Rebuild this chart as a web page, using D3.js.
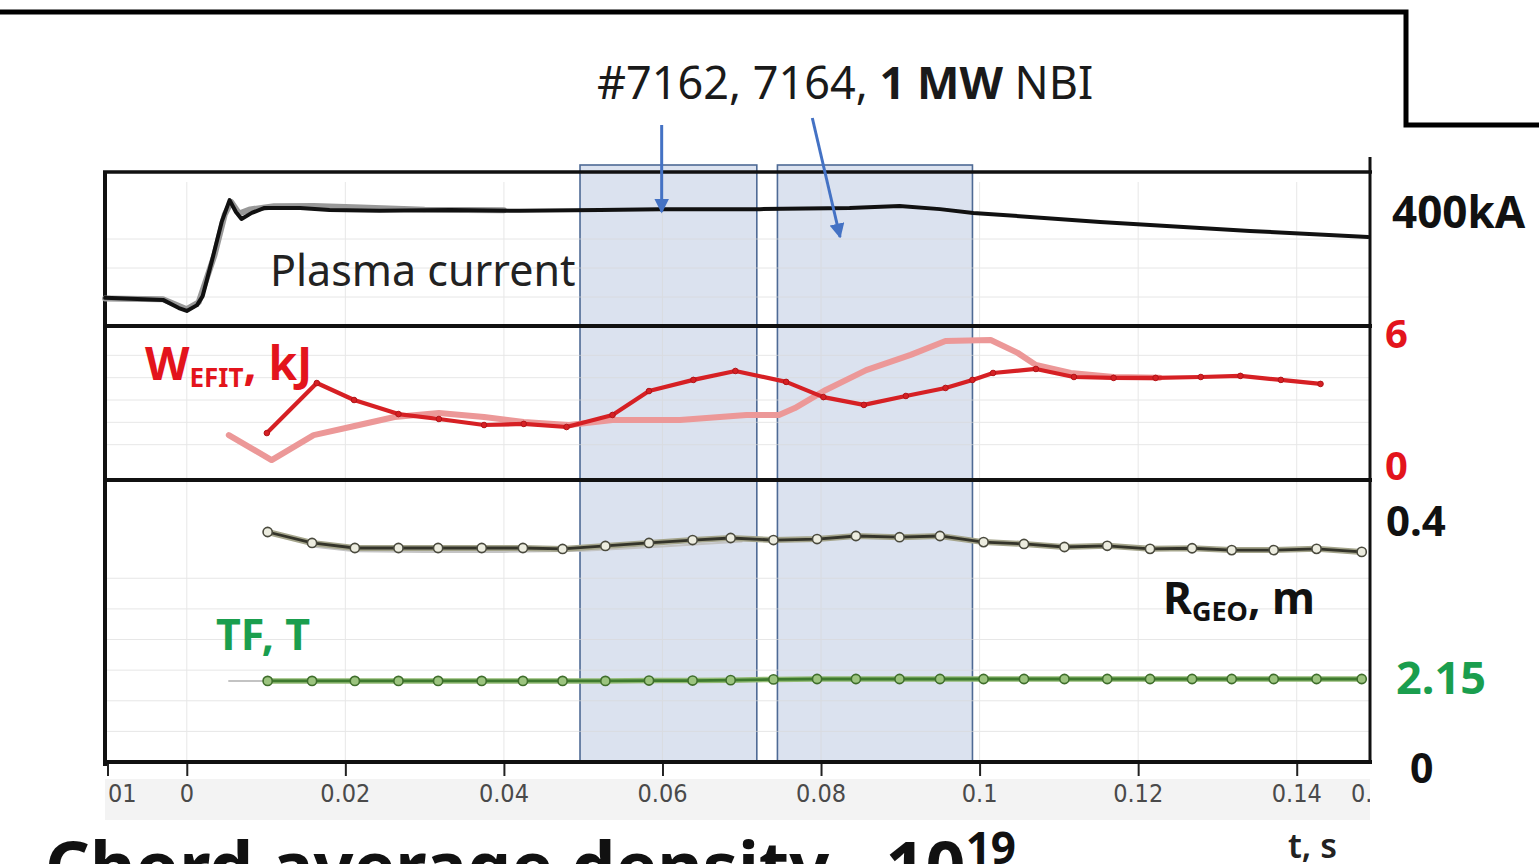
<!DOCTYPE html>
<html>
<head>
<meta charset="utf-8">
<script src="https://cdn.jsdelivr.net/npm/d3@7"></script>
<style>
body { margin: 0; background: #fff; }
svg { display: block; }
text { font-family: "Noto Sans", sans-serif; }
</style>
</head>
<body>
<svg id="chart" width="1539" height="864"></svg>
<script>
// time axis
var tickVals = [-0.01, 0, 0.02, 0.04, 0.06, 0.08, 0.1, 0.12, 0.14, 0.15];
var tickLabels = ['-0.01', '0', '0.02', '0.04', '0.06', '0.08', '0.1', '0.12', '0.14', '0.15'];

// NBI windows, s
var nbiStart = [0.0496, 0.0745];
var nbiEnd = [0.0719, 0.0991];

// plasma current, kA
var ipT = [-0.0103, -0.003, -0.001, 0, 0.0013, 0.002, 0.0032, 0.0044, 0.0054, 0.0062, 0.0069, 0.0082, 0.0098,
	0.0143, 0.018, 0.0243, 0.0332, 0.042, 0.0521, 0.0597, 0.0723, 0.0836, 0.0899, 0.095, 0.0992, 0.1152, 0.1341, 0.149];
var ipV = [97, 90, 62, 52, 72, 103, 228, 359, 434, 393, 369, 390, 407,
	407, 400, 397, 400, 397, 400, 403, 403, 407, 414, 403, 390, 359, 328, 307];
var ipGreyT = [-0.0103, -0.003, 0, 0.0015, 0.0035, 0.0048, 0.0056, 0.0066, 0.008, 0.011, 0.016, 0.022, 0.03, 0.04];
var ipGreyV = [95, 92, 58, 82, 245, 385, 428, 388, 402, 413, 414, 409, 401, 399];

// stored energy EFIT, kJ
var wT = [0.0101, 0.0164, 0.0211, 0.0267, 0.0318, 0.0375, 0.0425, 0.0479, 0.0537, 0.0583, 0.0639, 0.0692, 0.0756,
	0.0803, 0.0854, 0.0907, 0.0957, 0.0991, 0.1017, 0.1071, 0.1119, 0.1169, 0.1222, 0.1279, 0.1329, 0.138, 0.143];
var wV = [1.52, 3.76, 3.0, 2.37, 2.15, 1.88, 1.93, 1.79, 2.33, 3.4, 3.9, 4.3, 3.81,
	3.13, 2.78, 3.18, 3.54, 3.9, 4.21, 4.39, 4.03, 3.99, 3.99, 4.03, 4.08, 3.9, 3.72];
var wPrevT = [0.0053, 0.0107, 0.016, 0.0206, 0.0262, 0.0318, 0.0375, 0.0425, 0.0482, 0.0537, 0.0622, 0.0706,
	0.0747, 0.0767, 0.0806, 0.0857, 0.0913, 0.0957, 0.1014, 0.1048, 0.1071, 0.1115, 0.1169, 0.1227];
var wPrevV = [1.43, 0.31, 1.43, 1.79, 2.24, 2.42, 2.24, 2.02, 1.88, 2.1, 2.1, 2.33,
	2.33, 2.64, 3.45, 4.34, 5.02, 5.64, 5.69, 5.11, 4.57, 4.21, 4.03, 4.0];

// R_GEO, m and TF, T (same EFIT time slices)
var efitT = [0.0102, 0.0158, 0.0212, 0.0267, 0.0317, 0.0372, 0.0424, 0.0474, 0.0528, 0.0583, 0.0638, 0.0686, 0.074,
	0.0795, 0.0844, 0.0899, 0.095, 0.1005, 0.1056, 0.1107, 0.1161, 0.1215, 0.1268, 0.1318, 0.1371, 0.1425, 0.1482];
var rgeoV = [0.3755, 0.3576, 0.3494, 0.3494, 0.3494, 0.3494, 0.3494, 0.3478, 0.3527, 0.3576, 0.3624, 0.3657, 0.3624,
	0.364, 0.369, 0.367, 0.369, 0.359, 0.356, 0.351, 0.353, 0.348, 0.349, 0.346, 0.346, 0.348, 0.343];
var rgeoGreyT = [0.0158, 0.0212, 0.03, 0.04, 0.05, 0.06, 0.07];
var rgeoGreyV = [0.352, 0.344, 0.343, 0.343, 0.345, 0.352, 0.36];
var tfV = [2.1, 2.1, 2.1, 2.1, 2.1, 2.1, 2.1, 2.1, 2.1, 2.11, 2.11, 2.12, 2.14,
	2.15, 2.15, 2.15, 2.15, 2.15, 2.15, 2.15, 2.15, 2.15, 2.15, 2.15, 2.15, 2.15, 2.15];
var tfGreyT = [0.0053, 0.0102];
var tfGreyV = [2.1, 2.1];

var svg = d3.select('#chart');

var F = {left: 105, right: 1370, top: 172, mid1: 326, mid2: 480, bottom: 762};

var x = d3.scaleLinear().domain([-0.01, 0.15]).range([107.5, 1376]);
var yIp = d3.scaleLinear().domain([0, 400]).range([326, 210]);
var yW = d3.scaleLinear().domain([0, 6]).range([467, 333]);
var yR = d3.scaleLinear().domain([0, 0.4]).range([762, 517]);
var yTF = d3.scaleLinear().domain([0, 2.15]).range([762, 679]);

svg.append('rect').attr('width', 1539).attr('height', 864).attr('fill', '#fff');

// slide border
svg.append('path').attr('d', 'M0,12H1406V125H1539')
	.attr('fill', 'none').attr('stroke', '#000').attr('stroke-width', 5);

// NBI shading
svg.selectAll('rect.nbi').data(d3.zip(nbiStart, nbiEnd)).enter().append('rect')
	.attr('class', 'nbi')
	.attr('x', function (d) {return x(d[0]);})
	.attr('width', function (d) {return x(d[1]) - x(d[0]);})
	.attr('y', 165).attr('height', F.bottom - 165)
	.attr('fill', '#dbe2ef').attr('stroke', '#4e6a95').attr('stroke-width', 1.6);

// faint grid
var grid = svg.append('g').attr('stroke', '#d8d8d8').attr('stroke-width', 1).attr('opacity', 0.6);
tickVals.slice(1, 9).forEach(function (t) {
	grid.append('line').attr('x1', x(t)).attr('x2', x(t)).attr('y1', F.top + 10).attr('y2', F.bottom);
});
function hgrid(scale, vals) {
	vals.forEach(function (v) {
		grid.append('line').attr('x1', F.left).attr('x2', F.right).attr('y1', scale(v)).attr('y2', scale(v));
	});
}
hgrid(yIp, [100, 200, 300]);
hgrid(yW, [1, 2, 3, 4, 5]);
hgrid(yR, [0.05, 0.1, 0.15, 0.2, 0.25, 0.3]);

// label band under the axis
svg.append('rect').attr('x', F.left).attr('y', 779).attr('width', F.right - F.left).attr('height', 41)
	.attr('fill', '#f3f3f3');

// x axis: tick marks from d3, labels moved to a clipped group
var xAxis = d3.axisBottom(x).tickValues(tickVals).tickSize(14).tickPadding(9)
	.tickFormat(function (d, i) {return tickLabels[i];});
var ax = svg.append('g').attr('transform', 'translate(0,' + F.bottom + ')').call(xAxis);
ax.select('.domain').remove();
ax.selectAll('line').attr('stroke', '#222').attr('stroke-width', 2);
ax.selectAll('.tick').filter(function (d) {return d > 0.145;}).select('line').remove();

svg.append('clipPath').attr('id', 'axclip').append('rect')
	.attr('x', 109).attr('y', 740).attr('width', F.right - 109).attr('height', 80);
var axText = svg.append('g').attr('clip-path', 'url(#axclip)');
ax.selectAll('.tick').each(function (d) {
	var txt = d3.select(this).select('text');
	axText.append('text')
		.attr('x', x(d)).attr('y', F.bottom + 14 + 8).attr('dy', '0.71em')
		.attr('text-anchor', 'middle').attr('font-size', 25).attr('fill', '#4a4a4a')
		.style('font-family', '"Liberation Sans Narrow", "DejaVu Sans Condensed", sans-serif')
		.text(txt.text());
	txt.remove();
});

// frame
var frame = svg.append('g').attr('stroke', '#111').attr('fill', 'none');
frame.append('line').attr('x1', F.left - 2).attr('x2', F.right + 2).attr('y1', F.top).attr('y2', F.top).attr('stroke-width', 3.5);
frame.append('line').attr('x1', F.left - 2).attr('x2', F.right + 2).attr('y1', F.mid1).attr('y2', F.mid1).attr('stroke-width', 4);
frame.append('line').attr('x1', F.left - 2).attr('x2', F.right + 2).attr('y1', F.mid2).attr('y2', F.mid2).attr('stroke-width', 4);
frame.append('line').attr('x1', F.left - 2).attr('x2', F.right + 2).attr('y1', F.bottom).attr('y2', F.bottom).attr('stroke-width', 4);
frame.append('line').attr('x1', F.left).attr('x2', F.left).attr('y1', F.top - 1).attr('y2', F.bottom + 4).attr('stroke-width', 4);
frame.append('line').attr('x1', F.right).attr('x2', F.right).attr('y1', 157).attr('y2', F.bottom + 2).attr('stroke-width', 3);

function drawLine(ts, vs, yScale, stroke, width) {
	var line = d3.line().x(function (d) {return x(d[0]);}).y(function (d) {return yScale(d[1]);});
	return svg.append('path').datum(d3.zip(ts, vs)).attr('d', line)
		.attr('fill', 'none').attr('stroke', stroke).attr('stroke-width', width)
		.attr('stroke-linejoin', 'round').attr('stroke-linecap', 'round');
}
function drawDots(ts, vs, yScale, r, fill, stroke, sw) {
	svg.append('g').selectAll('circle').data(d3.zip(ts, vs)).enter().append('circle')
		.attr('cx', function (d) {return x(d[0]);})
		.attr('cy', function (d) {return yScale(d[1]);})
		.attr('r', r).attr('fill', fill).attr('stroke', stroke).attr('stroke-width', sw);
}

// plasma current
drawLine(ipGreyT, ipGreyV, yIp, '#999', 6);
drawLine(ipT, ipV, yIp, '#111', 4);

// W_EFIT
drawLine(wPrevT, wPrevV, yW, '#ec9898', 6);
drawLine(wT, wV, yW, '#d62024', 4.2);
drawDots(wT, wV, yW, 2.8, '#d62024', '#b01418', 1);

// R_GEO
drawLine(rgeoGreyT, rgeoGreyV, yR, '#c4c4c4', 2);
drawLine(efitT, rgeoV, yR, '#a5a58c', 6);
drawLine(efitT, rgeoV, yR, '#34342a', 2.8);
drawDots(efitT, rgeoV, yR, 4.6, '#ececdf', '#4a4a3e', 1.6);

// TF
drawLine(tfGreyT, tfGreyV, yTF, '#b0b0b0', 1.5);
drawLine(efitT, tfV, yTF, '#93bb74', 5.5);
drawLine(efitT, tfV, yTF, '#3e7a2e', 2.8);
drawDots(efitT, tfV, yTF, 4.6, '#9cc47f', '#3f6e2c', 1.6);

// arrows
var arrowFromT = [0.0599, 0.0789];
var arrowFromY = [125, 118];
var arrowToT = [0.0599, 0.0824];
var arrowToY = [212, 237];
svg.append('defs').append('marker').attr('id', 'ah')
	.attr('viewBox', '0 0 10 10').attr('refX', 9).attr('refY', 5)
	.attr('markerWidth', 5).attr('markerHeight', 5).attr('orient', 'auto')
	.append('path').attr('d', 'M0,0L10,5L0,10z').attr('fill', '#4472c4');
arrowFromT.forEach(function (t, i) {
	svg.append('line')
		.attr('x1', x(t)).attr('y1', arrowFromY[i])
		.attr('x2', x(arrowToT[i])).attr('y2', arrowToY[i])
		.attr('stroke', '#4472c4').attr('stroke-width', 3).attr('marker-end', 'url(#ah)');
});

// texts
var title = svg.append('text').attr('x', 597).attr('y', 99).attr('font-size', 45).attr('fill', '#1a1a1a');
title.append('tspan').text('#7162, 7164, ');
title.append('tspan').attr('font-weight', 'bold').text('1 MW');
title.append('tspan').text(' NBI');

svg.append('text').attr('x', 270).attr('y', 286).attr('font-size', 43).attr('fill', '#222').text('Plasma current');

var wl = svg.append('text').attr('x', 145).attr('y', 380).attr('font-size', 46)
	.attr('font-weight', 'bold').attr('fill', '#e3141c');
wl.append('tspan').text('W');
wl.append('tspan').attr('font-size', 26).attr('dy', 7).text('EFIT');
wl.append('tspan').attr('dy', -7).text(', kJ');

svg.append('text').attr('x', 216).attr('y', 650).attr('font-size', 43)
	.attr('font-weight', 'bold').attr('fill', '#1a9e4e').text('TF, T');

var rl = svg.append('text').attr('x', 1163).attr('y', 614).attr('font-size', 44)
	.attr('font-weight', 'bold').attr('fill', '#111');
rl.append('tspan').text('R');
rl.append('tspan').attr('font-size', 27).attr('dy', 7).text('GEO');
rl.append('tspan').attr('dy', -7).text(', m');

// right-hand scale labels
var rLabText = ['400kA', '6', '0', '0.4', '2.15', '0'];
var rLabCol = ['#111', '#e3141c', '#e3141c', '#111', '#1a9e4e', '#111'];
var rLabX = [1392, 1385, 1385, 1386, 1396, 1410];
var rLabY = [228, 348, 480, 536, 694, 783];
var rLabSize = [44, 40, 40, 42, 45, 41];
rLabText.forEach(function (s, i) {
	svg.append('text').attr('x', rLabX[i]).attr('y', rLabY[i]).attr('font-size', rLabSize[i])
		.attr('font-weight', 'bold').attr('fill', rLabCol[i]).text(s);
});

svg.append('text').attr('x', 1288).attr('y', 858).attr('font-size', 34)
	.attr('font-weight', 600).attr('fill', '#222').text('t, s');

var cap = svg.append('text').attr('x', 45).attr('y', 892).attr('font-size', 70)
	.attr('font-weight', 'bold').attr('fill', '#111');
cap.append('tspan').text('Chord average density , 10');
cap.append('tspan').attr('font-size', 44).attr('dy', -28).text('19');
</script>
</body>
</html>
